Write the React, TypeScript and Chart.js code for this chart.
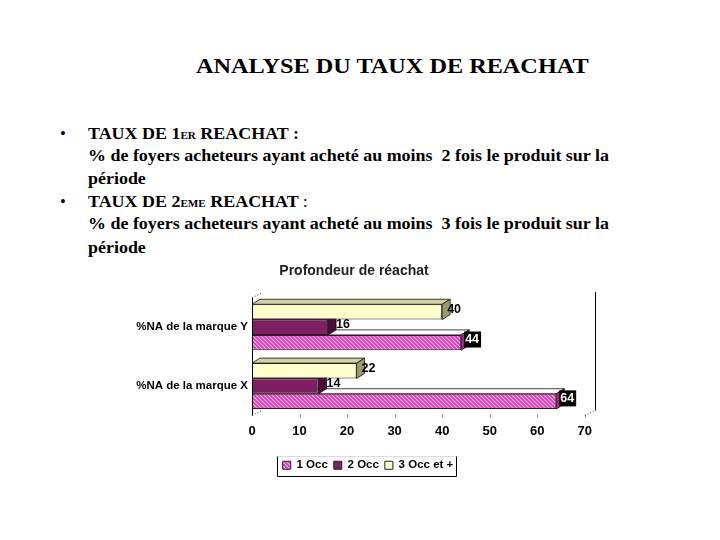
import React, { useEffect, useRef } from "react";
import { Chart, registerables } from "chart.js";

Chart.register(...registerables);

// ---- data ----
const categories = ["%NA de la marque Y", "%NA de la marque X"];
const seriesNames = ["3 Occ et +", "2 Occ", "1 Occ"];
const occ3Plus = [40, 22];
const occ2 = [16, 14];
const occ1 = [44, 64];
const xMin = 0;
const xMax = 70;
const xStep = 10;
const chartTitle = "Profondeur de réachat";

const FRONT = ["#FFFFCC", "#7F1F62", "pattern"];
const TOPC = ["#D2D2A2", "#5E1548", "#FFFFFF"];
const SIDE = ["#9C9C68", "#4A0F38", "#9B2C7E"];
const LABEL_DX = [5, 8, 4];
const DX = 8;
const DY = 5;

function makeHatch(): CanvasPattern | string {
  const c = document.createElement("canvas");
  c.width = 4;
  c.height = 4;
  const g = c.getContext("2d");
  if (!g) return "#E060C0";
  g.fillStyle = "#D83CB0";
  g.fillRect(0, 0, 4, 4);
  g.strokeStyle = "#F8B4EA";
  g.lineWidth = 1.1;
  g.beginPath();
  g.moveTo(-1, -1);
  g.lineTo(5, 5);
  g.moveTo(-1, 3);
  g.lineTo(1, 5);
  g.moveTo(3, -1);
  g.lineTo(5, 1);
  g.stroke();
  return g.createPattern(c, "repeat") || "#E060C0";
}

const depthPlugin = {
  id: "depth3d",
  afterLayout(chart: any) {
    const lg = chart.legend;
    if (lg) {
      lg.left += 14;
      lg.right += 14;
    }
  },
  beforeDatasetsDraw(chart: any) {
    const ctx = chart.ctx;
    const ca = chart.chartArea;
    ctx.save();
    // back wall / floor hints
    ctx.strokeStyle = "#000";
    ctx.lineWidth = 1;
    ctx.beginPath();
    ctx.moveTo(Math.round(ca.right + DX + 2) + 0.5, ca.top - DY - 1);
    ctx.lineTo(Math.round(ca.right + DX + 2) + 0.5, ca.bottom - DY);
    ctx.stroke();
    ctx.setLineDash([1, 2]);
    ctx.strokeStyle = "#444";
    ctx.beginPath();
    ctx.moveTo(ca.left, ca.top);
    ctx.lineTo(ca.left + DX + 2, ca.top - DY);
    ctx.moveTo(ca.left, ca.bottom);
    ctx.lineTo(ca.left + DX + 2, ca.bottom - DY);
    ctx.moveTo(ca.right, ca.bottom);
    ctx.lineTo(ca.right + DX + 2, ca.bottom - DY);
    ctx.stroke();
    ctx.setLineDash([]);
    // x tick marks
    const xs = chart.scales.x;
    ctx.strokeStyle = "#555";
    ctx.setLineDash([1, 1]);
    for (let v = xMin + xStep; v <= xMax; v += xStep) {
      const px = Math.round(xs.getPixelForValue(v)) + 0.5;
      ctx.beginPath();
      ctx.moveTo(px, ca.bottom - 1);
      ctx.lineTo(px, ca.bottom + 3);
      ctx.stroke();
    }
    ctx.setLineDash([]);
    // faces (draw bottom datasets first)
    for (let d = chart.data.datasets.length - 1; d >= 0; d--) {
      const meta = chart.getDatasetMeta(d);
      meta.data.forEach((el: any) => {
        const { x, y, base, height } = el.getProps(["x", "y", "base", "height"], true);
        const top = y - height / 2;
        const bottom = y + height / 2;
        ctx.fillStyle = TOPC[d];
        ctx.strokeStyle = "#111";
        ctx.lineWidth = 0.8;
        ctx.beginPath();
        ctx.moveTo(base, top);
        ctx.lineTo(base + DX, top - DY);
        ctx.lineTo(x + DX, top - DY);
        ctx.lineTo(x, top);
        ctx.closePath();
        ctx.fill();
        ctx.stroke();
        ctx.fillStyle = SIDE[d];
        ctx.beginPath();
        ctx.moveTo(x, top);
        ctx.lineTo(x + DX, top - DY);
        ctx.lineTo(x + DX, bottom - DY);
        ctx.lineTo(x, bottom);
        ctx.closePath();
        ctx.fill();
        ctx.stroke();
      });
    }
    ctx.restore();
  },
  afterDatasetsDraw(chart: any) {
    const ctx = chart.ctx;
    const ca = chart.chartArea;
    ctx.save();
    // left axis line
    ctx.strokeStyle = "#000";
    ctx.lineWidth = 1;
    ctx.beginPath();
    ctx.moveTo(Math.round(ca.left) + 0.5, ca.top);
    ctx.lineTo(Math.round(ca.left) + 0.5, ca.bottom);
    ctx.stroke();
    // value labels
    ctx.font = 'bold 12.5px "Liberation Sans", Arial, sans-serif';
    ctx.textBaseline = "middle";
    ctx.textAlign = "left";
    chart.data.datasets.forEach((ds: any, d: number) => {
      const meta = chart.getDatasetMeta(d);
      meta.data.forEach((el: any, i: number) => {
        const { x, y } = el.getProps(["x", "y"], true);
        const txt = String(ds.data[i]);
        const lx = x + LABEL_DX[d];
        const ly = y - 3;
        if (d === 2) {
          const w = ctx.measureText(txt).width;
          ctx.fillStyle = "#000";
          ctx.fillRect(lx - 1, ly - 8, w + 3, 16);
          ctx.fillStyle = "#fff";
        } else {
          ctx.fillStyle = "#000";
        }
        ctx.fillText(txt, lx, ly + 0.5);
      });
    });
    ctx.restore();
  },
  afterDraw(chart: any) {
    const lg = chart.legend;
    if (!lg || !lg.legendHitBoxes || !lg.legendHitBoxes.length) return;
    const hb = lg.legendHitBoxes;
    let l = Infinity, r = -Infinity, t = Infinity, b = -Infinity;
    hb.forEach((h: any) => {
      l = Math.min(l, h.left);
      r = Math.max(r, h.left + h.width);
      t = Math.min(t, h.top);
      b = Math.max(b, h.top + h.height);
    });
    const ctx = chart.ctx;
    ctx.save();
    const L = Math.round(l - 6) + 0.5;
    const R = Math.round(r + 3) + 0.5;
    const T = Math.round(t - 4) + 0.5;
    const B = Math.round(b + 5) + 0.5;
    ctx.strokeStyle = "#ddd";
    ctx.lineWidth = 1;
    ctx.beginPath();
    ctx.moveTo(L, T);
    ctx.lineTo(R, T);
    ctx.stroke();
    ctx.strokeStyle = "#000";
    ctx.beginPath();
    ctx.moveTo(L, T);
    ctx.lineTo(L, B);
    ctx.lineTo(R, B);
    ctx.lineTo(R, T);
    ctx.stroke();
    ctx.restore();
  },
};

function ChartBox() {
  const ref = useRef<HTMLCanvasElement | null>(null);
  useEffect(() => {
    if (!ref.current) return;
    const hatch = makeHatch();
    const values = [occ3Plus, occ2, occ1];
    const chart = new Chart(ref.current, {
      type: "bar",
      data: {
        labels: categories,
        datasets: seriesNames.map((name, i) => ({
          label: name,
          data: values[i],
          backgroundColor: FRONT[i] === "pattern" ? (hatch as any) : FRONT[i],
          borderColor: "#222",
          borderWidth: 1,
          categoryPercentage: 0.78,
          barPercentage: 1.0,
        })),
      },
      options: {
        indexAxis: "y",
        responsive: false,
        animation: false,
        maintainAspectRatio: false,
        layout: { padding: { left: 0, right: 12, top: 0, bottom: 0 } },
        scales: {
          x: {
            min: xMin,
            max: xMax,
            grid: { display: false, drawTicks: false },
            border: { display: false },
            ticks: {
              stepSize: xStep,
              padding: 8,
              color: "#000",
              font: { family: '"Liberation Sans", Arial, sans-serif', size: 13, weight: "bold" },
            },
            afterFit: (s: any) => {
              s.height = 38;
            },
          },
          y: {
            grid: { display: false, drawTicks: false },
            border: { display: false },
            ticks: {
              padding: 4,
              color: "#000",
              font: { family: '"Liberation Sans", Arial, sans-serif', size: 11.5, weight: "bold" },
            },
            afterFit: (s: any) => {
              s.width = 132;
            },
          },
        },
        plugins: {
          title: {
            display: true,
            text: chartTitle,
            color: "#222",
            font: { family: '"Liberation Sans", Arial, sans-serif', size: 14, weight: "bold", lineHeight: 1.2 },
            padding: { top: 8, bottom: 18 },
          },
          legend: {
            display: true,
            position: "bottom",
            reverse: true,
            labels: {
              boxWidth: 8,
              boxHeight: 8,
              padding: 6,
              color: "#000",
              font: { family: '"Liberation Sans", Arial, sans-serif', size: 11.5, weight: "bold" },
            },
          },
          tooltip: { enabled: false },
        },
      },
      plugins: [depthPlugin],
    });
    return () => chart.destroy();
  }, []);
  return (
    <canvas
      ref={ref}
      width={480}
      height={226}
      style={{ position: "absolute", left: 120, top: 255, width: 480, height: 226 }}
    />
  );
}

const serif = '"Liberation Serif", "Times New Roman", serif';

function Line({ top, left, size, bold, sx, children }: any) {
  return (
    <div
      style={{
        position: "absolute",
        top,
        left,
        fontFamily: serif,
        fontSize: size,
        lineHeight: 1,
        fontWeight: bold ? "bold" : "normal",
        whiteSpace: "pre",
        color: "#000",
        transform: sx ? `scaleX(${sx})` : undefined,
        transformOrigin: "left",
      }}
    >
      {children}
    </div>
  );
}

export default function App() {
  const fs = 16.5;
  const sx = 1.088;
  const small = { fontSize: "0.62em" };
  return (
    <div
      style={{
        position: "absolute",
        left: 0,
        top: 0,
        width: 720,
        height: 540,
        background: "#fff",
        overflow: "hidden",
      }}
    >
      <Line top={56} left={196} size={21} bold sx={1.155}>
        ANALYSE DU TAUX DE REACHAT
      </Line>
      <Line top={126} left={60} size={fs}>•</Line>
      <Line top={126} left={88} size={fs} bold sx={sx}>
        TAUX DE 1<span style={small}>ER</span> REACHAT :
      </Line>
      <Line top={148} left={88} size={fs} bold sx={sx}>
        % de foyers acheteurs ayant acheté au moins  2 fois le produit sur la
      </Line>
      <Line top={170.5} left={88} size={fs} bold sx={sx}>période</Line>
      <Line top={194} left={60} size={fs}>•</Line>
      <Line top={194} left={88} size={fs} bold sx={sx}>
        TAUX DE 2<span style={small}>EME</span> REACHAT <span style={{ fontWeight: "normal" }}>:</span>
      </Line>
      <Line top={216} left={88} size={fs} bold sx={sx}>
        % de foyers acheteurs ayant acheté au moins  3 fois le produit sur la
      </Line>
      <Line top={239.5} left={88} size={fs} bold sx={sx}>période</Line>
      <ChartBox />
    </div>
  );
}
